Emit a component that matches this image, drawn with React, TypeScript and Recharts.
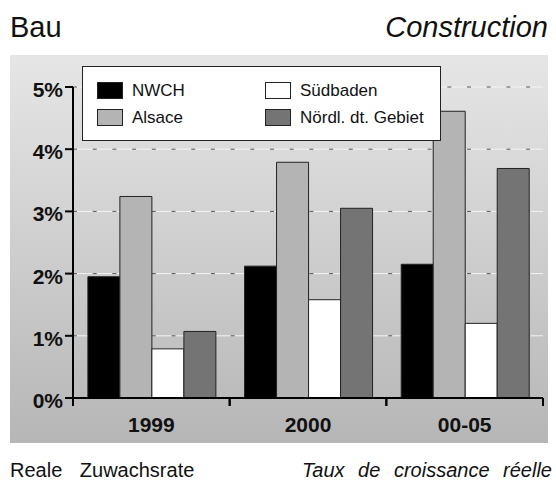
import { BarChart, Bar, XAxis, YAxis, CartesianGrid, Legend } from 'recharts';

const categories = ['1999', '2000', '00-05'];
const nwch = [1.95, 2.12, 2.15];
const alsace = [3.24, 3.79, 4.61];
const suedbaden = [0.79, 1.58, 1.2];
const noerdl = [1.07, 3.05, 3.69];
const yTicks = [0, 1, 2, 3, 4, 5];

const series = [
  { key: 'nwch', name: 'NWCH', color: '#000000' },
  { key: 'alsace', name: 'Alsace', color: '#b4b4b4' },
  { key: 'suedbaden', name: 'Südbaden', color: '#ffffff' },
  { key: 'noerdl', name: 'Nördl. dt. Gebiet', color: '#747474' },
];

const data = categories.map((c, i) => ({
  name: c,
  nwch: nwch[i],
  alsace: alsace[i],
  suedbaden: suedbaden[i],
  noerdl: noerdl[i],
}));

const FONT = '"Liberation Sans", Arial, Helvetica, sans-serif';

// x ticks sit on the category boundaries, labels in the middle
const XTick = ({ x, y, payload }: any) => {
  const off = payload?.offset ?? 0;
  return (
    <g>
      <line x1={x - off} y1={y - 10} x2={x - off} y2={y - 2} stroke="#000" strokeWidth={2} />
      <line x1={x + off} y1={y - 10} x2={x + off} y2={y - 2} stroke="#000" strokeWidth={2} />
      <text x={x} y={y + 24} textAnchor="middle" fontFamily={FONT} fontWeight="bold" fontSize={21} fill="#111">
        {payload.value}
      </text>
    </g>
  );
};

const YTick = ({ x, y, payload }: any) => (
  <text x={x} y={y + 10} textAnchor="end" fontFamily={FONT} fontWeight="bold" fontSize={21} fill="#111">
    {payload.value}%
  </text>
);

const LegendBox = () => (
  <div
    style={{
      width: 359,
      height: 75,
      boxSizing: 'border-box',
      background: '#fff',
      border: '1.5px solid #222',
      display: 'grid',
      gridTemplateRows: '27px 27px',
      gridTemplateColumns: '168px 170px',
      gridAutoFlow: 'column',
      padding: '14px 0 0 14px',
      fontFamily: FONT,
      fontSize: 17,
      color: '#111',
    }}
  >
    {series.map((s) => (
      <div key={s.key} style={{ display: 'flex', alignItems: 'center', height: 19 }}>
        <span
          style={{
            display: 'inline-block',
            width: 26,
            height: 17,
            boxSizing: 'border-box',
            background: s.color,
            border: '1px solid #222',
            marginRight: 9,
          }}
        />
        <span>{s.name}</span>
      </div>
    ))}
  </div>
);

export default function App() {
  return (
    <div style={{ position: 'absolute', left: 0, top: 0, width: 556, height: 480, background: '#fff', fontFamily: FONT }}>
      <div style={{ position: 'absolute', left: 10, top: 12.8, fontSize: 29, lineHeight: 1, color: '#111' }}>Bau</div>
      <div style={{ position: 'absolute', right: 8, top: 12.8, fontSize: 29, lineHeight: 1, fontStyle: 'italic', color: '#111' }}>
        Construction
      </div>
      <div
        style={{
          position: 'absolute',
          left: 10,
          top: 55,
          width: 538,
          height: 388,
          background: 'linear-gradient(to bottom, #e6e6e6, #b6b6b6)',
        }}
      />
      <div style={{ position: 'absolute', left: 0, top: 0 }}>
        <BarChart
          width={556}
          height={480}
          data={data}
          margin={{ top: 87, right: 13, left: 0, bottom: 42 }}
          barCategoryGap="9.5%"
          barGap={0}
        >
          <CartesianGrid vertical={false} stroke="#f4f4f4" strokeWidth={1} />
          <CartesianGrid vertical={false} stroke="#555" strokeWidth={1} strokeDasharray="4 15.7" />
          <XAxis
            dataKey="name"
            height={40}
            axisLine={{ stroke: '#000', strokeWidth: 2 }}
            tickLine={false}
            tickSize={8}
            tickMargin={2}
            tick={<XTick />}
            interval={0}
          />
          <YAxis
            width={73}
            domain={[0, 5]}
            ticks={yTicks}
            interval={0}
            axisLine={{ stroke: '#000', strokeWidth: 2 }}
            tickLine={{ stroke: '#000', strokeWidth: 2 }}
            tickSize={8}
            tickMargin={2}
            tick={<YTick />}
          />
          <Legend
            layout="horizontal"
            verticalAlign="middle"
            align="center"
            content={<LegendBox />}
            wrapperStyle={{ left: 82, top: 66, width: 359, height: 75 }}
          />
          {series.map((s) => (
            <Bar
              key={s.key}
              dataKey={s.key}
              name={s.name}
              fill={s.color}
              stroke="#222"
              strokeWidth={1}
              isAnimationActive={false}
            />
          ))}
        </BarChart>
      </div>
      <div style={{ position: 'absolute', left: 10, top: 459.8, fontSize: 20, lineHeight: 1, color: '#111', wordSpacing: 12 }}>
        Reale Zuwachsrate
      </div>
      <div
        style={{
          position: 'absolute',
          right: 4,
          top: 459.8,
          fontSize: 20,
          lineHeight: 1,
          fontStyle: 'italic',
          color: '#111',
          wordSpacing: 8,
        }}
      >
        Taux de croissance réelle
      </div>
    </div>
  );
}
